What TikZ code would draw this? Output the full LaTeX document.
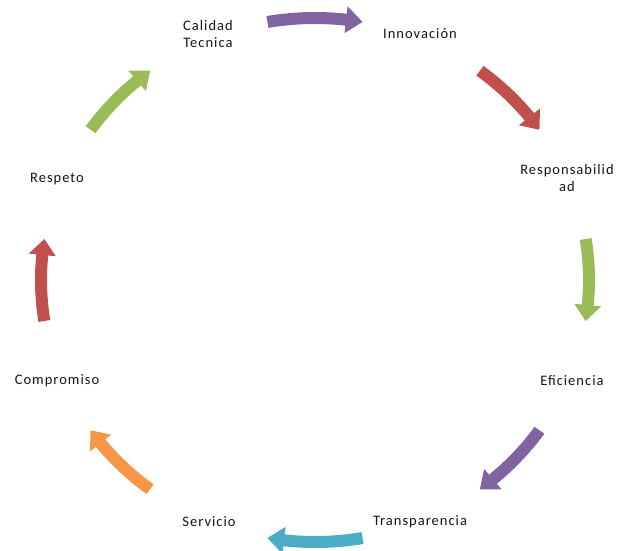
\documentclass[tikz,border=0pt]{standalone}
\usepackage{fontspec}
\setmainfont{Carlito}[LetterSpace=7]
\definecolor{cpurple}{HTML}{8064A2}
\definecolor{cred}{HTML}{C0504D}
\definecolor{cgreen}{HTML}{9BBB59}
\definecolor{ccyan}{HTML}{4BACC6}
\definecolor{corange}{HTML}{F79646}
\newcommand{\cyclearrow}[3]{%
  \pgfmathsetmacro{\ha}{#3+3.5}%
  \pgfmathsetmacro{\rxo}{274+6}\pgfmathsetmacro{\ryo}{262+6}%
  \pgfmathsetmacro{\rxi}{274-6}\pgfmathsetmacro{\ryi}{262-6}%
  \pgfmathsetmacro{\rxh}{274+13.5}\pgfmathsetmacro{\ryh}{262+13.5}%
  \pgfmathsetmacro{\rxk}{274-13.5}\pgfmathsetmacro{\ryk}{262-13.5}%
  \fill[#1] (#2:\rxo pt and \ryo pt)
    arc[start angle=#2, end angle=\ha, x radius=\rxo pt, y radius=\ryo pt]
    -- (\ha:\rxh pt and \ryh pt) -- (#3:274pt and 262pt)
    -- (\ha:\rxk pt and \ryk pt) -- (\ha:\rxi pt and \ryi pt)
    arc[start angle=\ha, end angle=#2, x radius=\rxi pt, y radius=\ryi pt]
    -- cycle;}
\begin{document}
\begin{tikzpicture}[x=1pt,y=1pt,
  lbl/.style={font=\fontsize{14.5}{17}\selectfont, align=center, inner sep=0pt, text=black!92}]
\useasboundingbox (0,0) rectangle (617,550);
\node[lbl] (cal) at (208,516) {Calidad\\Tecnica};
\node[lbl] (inn) at (420,516) {Innovación};
\node[lbl] (res) at (567,372) {Responsabilid\\ad};
\node[lbl] (efi) at (572,169) {Eficiencia};
\node[lbl] (tra) at (420,28) {Transparencia};
\node[lbl] (ser) at (209,28) {Servicio};
\node[lbl] (com) at (57,169) {Compromiso};
\node[lbl] (resp) at (57,371) {Respeto};
\begin{scope}[shift={(315,270)}]
\cyclearrow{cpurple}{100}{80}
\cyclearrow{cred}{53}{35}
\cyclearrow{cgreen}{9}{-9}
\cyclearrow{cpurple}{-35}{-53}
\cyclearrow{ccyan}{-80}{-100}
\cyclearrow{corange}{-127}{-145}
\cyclearrow{cred}{-171}{-189}
\cyclearrow{cgreen}{145}{127}
\end{scope}
\end{tikzpicture}
\end{document}
